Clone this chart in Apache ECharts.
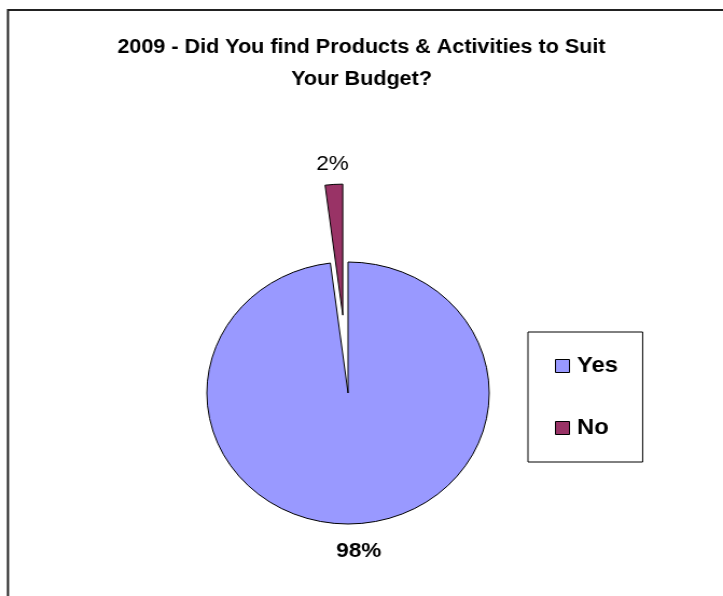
<!DOCTYPE html>
<html>
<head>
<meta charset="utf-8">
<script src="https://cdn.jsdelivr.net/npm/echarts@6/dist/echarts.min.js"></script>
<style>
  html, body { margin: 0; padding: 0; background: #fff; overflow: hidden; }
  /* the chart is laid out narrower and stretched sideways, giving the wide pie */
  #chart { width: 671px; height: 596px; transform: scaleX(1.0775); transform-origin: 0 0; }
</style>
</head>
<body>
<div id="chart"></div>
<script>
// Survey answers and their shares (percent)
const answers = ['Yes', 'No'];
const shares = [98, 2];
const sliceColors = ['#9999FF', '#993366'];

const FONT = '"Liberation Sans", Arial, sans-serif';

const chart = echarts.init(document.getElementById('chart'), null, { renderer: 'canvas' });

const pieData = answers.map((name, i) => ({
  name: name,
  value: shares[i],
  selected: name === 'No',
  itemStyle: { color: sliceColors[i] },
  select: { itemStyle: { color: sliceColors[i], borderColor: '#000', borderWidth: 1 } },
  label: { fontWeight: name === 'Yes' ? 'bold' : 'normal' },
  labelLine: { length: name === 'Yes' ? 28 : 20, length2: 0 }
}));

chart.setOption({
  animation: false,
  backgroundColor: '#fff',
  title: {
    text: '2009 - Did You find Products & Activities to Suit\nYour Budget?',
    left: 'center',
    top: 26,
    textStyle: {
      fontFamily: FONT,
      fontSize: 20,
      fontWeight: 'bold',
      color: '#000',
      lineHeight: 32
    }
  },
  legend: {
    orient: 'vertical',
    left: 490,
    top: 332,
    padding: [23, 23, 23, 25],
    itemGap: 40,
    itemWidth: 13,
    itemHeight: 13,
    icon: 'rect',
    borderColor: '#000',
    borderWidth: 1,
    selectedMode: false,
    itemStyle: { borderColor: '#000', borderWidth: 1 },
    textStyle: {
      fontFamily: FONT,
      fontSize: 22,
      fontWeight: 'bold',
      color: '#000',
      lineHeight: 22,
      padding: [0, 0, 0, 2]
    },
    data: answers
  },
  graphic: [{
    type: 'rect',
    silent: true,
    shape: { x: 7.4, y: 10, width: 800, height: 700 },
    style: { fill: 'none', stroke: '#222', lineWidth: 2 }
  }],
  series: [{
    type: 'pie',
    center: [323, 393],
    radius: 131,
    startAngle: 90,
    clockwise: true,
    selectedMode: 'single',
    selectedOffset: 78,
    avoidLabelOverlap: false,
    emphasis: { disabled: true },
    itemStyle: { borderColor: '#000', borderWidth: 1 },
    label: {
      show: true,
      position: 'outside',
      formatter: '{c}%',
      fontFamily: FONT,
      fontSize: 21,
      color: '#000',
      distanceToLabelLine: 0
    },
    labelLine: { show: false },
    labelLayout: function () {
      return { align: 'center', verticalAlign: 'middle' };
    },
    data: pieData
  }]
});
</script>
</body>
</html>
